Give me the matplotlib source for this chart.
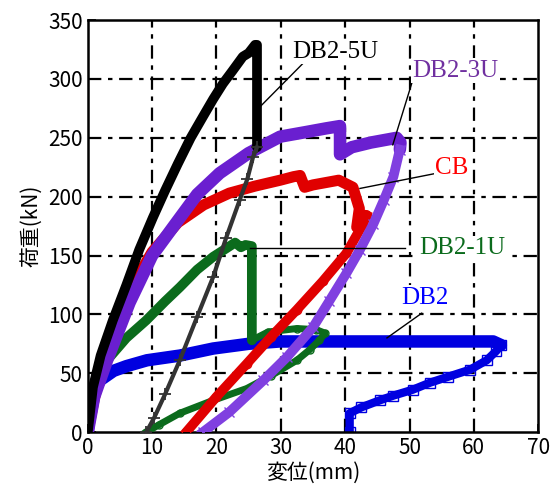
import matplotlib.pyplot as plt

plt.rcParams['font.family'] = ['Noto Sans CJK JP', 'DejaVu Sans']

# DB2-5U (black)
x_5u_load = [0, 0.8, 2, 3.9, 6, 8, 10.1, 12, 14, 16, 17.9, 19.5, 21, 22.5, 24.1, 25, 26, 26.3, 26.3]
y_5u_load = [0, 38, 65, 95, 125, 155, 182, 205, 228, 250, 268, 283, 296, 307, 319, 322, 329, 329, 242]
x_5u_unl = [26.3, 25.7, 24.8, 23.6, 21.5, 19.5, 17, 14.3, 12, 10.3, 9.1]
y_5u_unl = [242, 234, 215, 197, 165, 132, 98, 61, 32, 12, 0]

# DB2-3U (purple)
x_3u_load = [0, 1, 3, 6.5, 10, 14.3, 17, 20.5, 25, 29.9, 34, 37, 39.2, 39.2, 41, 44, 46, 48, 48.6, 48.5]
y_3u_load = [0, 30, 61, 110, 150, 182, 202, 220, 237, 251, 255, 258, 260, 236, 242, 246, 248, 250, 246, 240]
x_3u_unl = [48.5, 47.5, 46, 44.4, 42.3, 40.2, 37.5, 35, 31, 27.3, 22, 17.9]
y_3u_unl = [240, 217, 197, 177, 155, 135, 111, 89, 64, 44, 17, 0]

# CB (red)
x_cb_load = [0, 1, 2, 4, 7, 10, 14, 18, 22, 26, 29.9, 32, 33, 33.7, 35, 39, 41.2, 42.2, 41.8, 43.3]
y_cb_load = [0, 28, 50, 85, 125, 153, 178, 193, 203, 209, 214, 217, 218, 208, 210, 214, 208, 190, 174, 184]
x_cb_unl = [43.3, 42.8, 40.2, 36.5, 32.5, 28.5, 24.7, 20, 15.3]
y_cb_unl = [184, 177, 152, 128, 104, 81, 58, 30, 0]

# DB2-1U (green)
x_1u_load = [0, 1, 3, 6, 9.1, 12, 14.3, 17, 19.5, 21.5, 22.9, 23.8, 24.5, 25.5, 25.5]
y_1u_load = [0, 35, 61, 80, 95, 111, 123, 138, 149, 156, 161, 157, 159, 158, 78]
x_1u_unl = [25.5, 28, 32.5, 35.5, 36.9, 36, 34.5, 32.5, 28.5, 24.7, 19.5, 14.3, 11, 9.1]
y_1u_unl = [78, 85, 88, 87, 84, 78, 70, 61, 48, 37, 27, 16, 6, 0]

# DB2 (blue)
x_db2_load = [0, 0.4, 1, 1.9, 4, 6, 9.2, 14.3, 19.5, 25, 29.9, 35, 40, 50, 60, 63, 64.2]
y_db2_load = [0, 22, 35, 44, 52, 56, 61, 65, 71, 75, 77, 77, 77, 77, 77, 77, 74]
x_db2_unl = [64.2, 63.5, 62, 59.4, 56, 53.2, 50.5, 47.5, 45.4, 42.5, 40.7, 40.7]
y_db2_unl = [74, 69, 61, 53, 47, 42, 36, 31, 27, 21, 16, 0]

x_ticks = [0, 10, 20, 30, 40, 50, 60, 70]
y_ticks = [0, 50, 100, 150, 200, 250, 300, 350]

fig = plt.figure(figsize=(5.52, 4.91), dpi=100)
ax = fig.add_axes([0.159, 0.120, 0.816, 0.839])

for v in x_ticks[1:-1]:
    ax.axvline(v, color='black', lw=1.6, ls=(0, (6, 3, 2, 3)), zorder=1)
for v in y_ticks[1:-1]:
    ax.axhline(v, color='black', lw=1.6, ls=(0, (6, 3, 2, 3)), zorder=1)

# blue
ax.plot(x_db2_load, y_db2_load, color='#0000e0', lw=9, solid_capstyle='round',
        solid_joinstyle='round', zorder=2)
ax.plot(x_db2_unl, y_db2_unl, color='#0000e0', lw=6, marker='s', ms=7, mfc='none',
        solid_joinstyle='round', zorder=2)
# green
ax.plot(x_1u_load, y_1u_load, color='#0b6b1c', lw=7, solid_capstyle='round',
        solid_joinstyle='round', zorder=3)
ax.plot(x_1u_unl, y_1u_unl, color='#0b6b1c', lw=5, marker='o', ms=5, mfc='none',
        solid_joinstyle='round', zorder=3)
# red
ax.plot(x_cb_load, y_cb_load, color='#e00000', lw=8, solid_capstyle='round',
        solid_joinstyle='round', zorder=4)
ax.plot(x_cb_unl, y_cb_unl, color='#e00000', lw=7, marker='o', ms=6, mfc='none',
        solid_joinstyle='round', zorder=4)
# purple
ax.plot(x_3u_load, y_3u_load, color='#6a1fd0', lw=9, solid_capstyle='round',
        solid_joinstyle='round', zorder=5)
ax.plot(x_3u_unl, y_3u_unl, color='#8040e0', lw=7, marker='x', ms=7,
        solid_joinstyle='round', zorder=5)
# black
ax.plot(x_5u_load, y_5u_load, color='black', lw=7, solid_capstyle='round',
        solid_joinstyle='round', zorder=6)
ax.plot(x_5u_unl, y_5u_unl, color='#333333', lw=3, marker='+', ms=8, mew=1.3,
        solid_joinstyle='round', zorder=6)

lab = dict(family=['Liberation Serif', 'DejaVu Serif'], fontsize=18, ha='center', va='center', zorder=8,
           bbox=dict(facecolor='white', edgecolor='none', pad=1))
ax.text(38.4, 323, 'DB2-5U', color='black', **lab)
ax.plot([26.7, 33.4], [276, 313], color='black', lw=1, zorder=7)
ax.text(57.1, 307, 'DB2-3U', color='#7030a0', **lab)
ax.plot([47.4, 50.5], [244, 299], color='black', lw=1, zorder=7)
ax.text(56.6, 224, 'CB', color='#ff0000', **lab)
ax.plot([42.3, 54.3], [207, 220], color='black', lw=1, zorder=7)
ax.text(58.2, 156, 'DB2-1U', color='#0b6b1c', **lab)
ax.plot([25.2, 49.3], [156, 156], color='black', lw=1, zorder=7)
ax.text(52.4, 114, 'DB2', color='#0000ff', **lab)
ax.plot([46.5, 51.9], [80, 101], color='black', lw=1, zorder=7)

ax.set_xlim(0, 70)
ax.set_ylim(0, 350)
ax.set_xticks(x_ticks)
ax.set_yticks(y_ticks)
ax.tick_params(direction='in', labelsize=15, length=6, width=1.2)
for s in ax.spines.values():
    s.set_linewidth(1.8)
ax.set_xlabel('変位(mm)', fontsize=15, labelpad=2)
ax.set_ylabel('荷重(kN)', fontsize=15, labelpad=4)

fig.savefig('out.png', dpi=100)
